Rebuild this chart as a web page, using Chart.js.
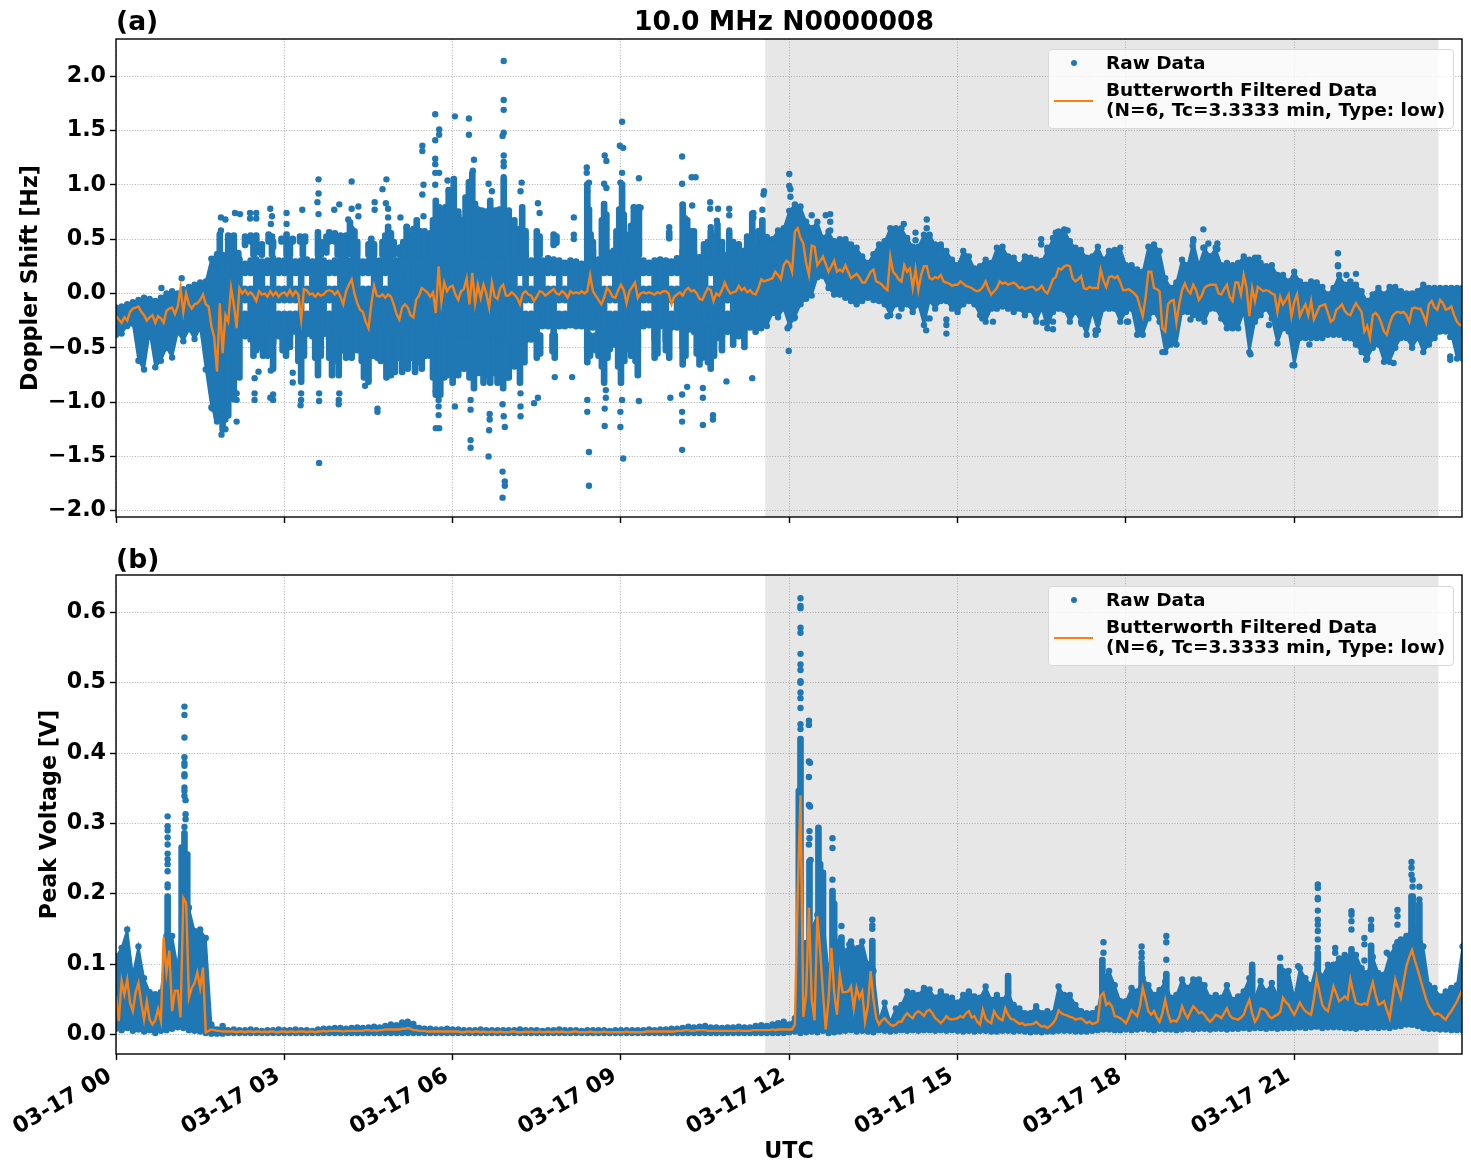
<!DOCTYPE html>
<html>
<head>
<meta charset="utf-8">
<title>10.0 MHz N0000008</title>
<script src="https://cdn.jsdelivr.net/npm/chart.js@4/dist/chart.umd.min.js"></script>
<style>
  body { margin: 0; background: #fff; font-family: "DejaVu Sans", sans-serif; font-weight: bold; color: #000; }
  #page { position: relative; width: 1471px; height: 1172px; overflow: hidden; }
  canvas { position: absolute; left: 0; }
  .heading { position: absolute; white-space: nowrap; font-size: 26.6px; line-height: 30px; }
  .legend { position: absolute; left: 1048px; width: 406px; height: 80px; box-sizing: border-box;
    background: rgba(255, 255, 255, 0.8); border: 1px solid #d8d8d8; border-radius: 4px; font-size: 18.5px; line-height: 20px; }
  .legend span { position: absolute; white-space: nowrap; }
  .legend .dot { left: 22px; top: 10px; width: 6px; height: 6px; border-radius: 50%; background: #1f77b4; }
  .legend .dash { left: 5px; top: 50px; width: 39px; height: 2px; background: #ff7f0e; }
  .legend .raw { left: 57px; top: 3px; }
  .legend .filtered { left: 57px; top: 30px; }
</style>
</head>
<body>
<div id="page">
  <canvas id="dopplerChart" width="1471" height="530" style="top:0"></canvas>
  <canvas id="voltageChart" width="1471" height="642" style="top:530px"></canvas>
  <div class="heading" style="left:116px;top:6px">(a)</div>
  <div class="heading" style="left:116px;top:544px">(b)</div>
  <div class="heading" style="left:634px;top:6px">10.0 MHz N0000008</div>
  <div class="legend" style="top:49px">
    <span class="dot"></span><span class="raw">Raw Data</span>
    <span class="dash"></span><span class="filtered">Butterworth Filtered Data<br>(N=6, Tc=3.3333 min, Type: low)</span>
  </div>
  <div class="legend" style="top:586px">
    <span class="dot"></span><span class="raw">Raw Data</span>
    <span class="dash"></span><span class="filtered">Butterworth Filtered Data<br>(N=6, Tc=3.3333 min, Type: low)</span>
  </div>
</div>
<script>
// Band edges hold one reading per 0.1 hour, filtered traces one per 0.05 hour
const bandStep = 0.1;
const filteredStep = 0.05;
const xTickLabels = ["03-17 00", "03-17 03", "03-17 06", "03-17 09", "03-17 12", "03-17 15", "03-17 18", "03-17 21"];
const duskSpan = [11.57, 23.57];

// Doppler shift [Hz], edges of the solid raw band outside the two-ray night hours
const dopplerUpper = [
  -.13,-.12,-.10,-.08,-.06,-.04,-.05,-.07,-.04,.00,
  .02,.00,.04,.06,.08,.10,.11,.32,.36,null,
  null,null,null,null,null,null,null,null,null,null,
  null,null,null,null,null,null,null,null,null,null,
  null,null,null,null,null,null,null,null,null,null,
  null,null,null,null,null,null,null,null,null,null,
  null,null,null,null,null,null,null,null,null,null,
  null,null,null,null,null,null,null,null,null,null,
  null,null,null,null,null,null,null,null,null,null,
  null,null,null,null,null,null,null,null,null,null,
  null,null,null,null,null,null,null,null,null,null,
  null,null,null,null,null,.48,.52,.50,.58,.60,
  .76,.82,.80,.66,.60,.66,.51,.57,.48,.50,
  .50,.45,.42,.34,.28,.36,.45,.48,.60,.60,
  .60,.51,.43,.43,.54,.54,.45,.43,.39,.31,
  .26,.39,.34,.23,.25,.31,.28,.42,.43,.34,
  .33,.26,.34,.33,.31,.30,.39,.51,.57,.59,
  .48,.42,.40,.33,.34,.43,.31,.39,.40,.42,
  .26,.26,.22,.20,.43,.45,.39,.14,.05,.10,
  .31,.26,.48,.26,.42,.34,.42,.26,.28,.26,
  .28,.34,.31,.33,.28,.25,.26,.17,.17,.11,
  .20,.11,.08,.11,.10,.06,-.01,.05,.17,.08,
  .11,.08,.02,-.07,-.01,.05,-.01,.06,.06,.02,
  .00,.00,.02,.08,.05,.05,.05,.05,.05,.05,.05
];
const dopplerLower = [
  -.38,-.37,-.30,-.28,-.62,-.70,-.36,-.68,-.62,-.50,
  -.59,-.36,-.44,-.33,-.42,-.32,-.70,-1.05,-1.18,null,
  null,null,null,null,null,null,null,null,null,null,
  null,null,null,null,null,null,null,null,null,null,
  null,null,null,null,null,null,null,null,null,null,
  null,null,null,null,null,null,null,null,null,null,
  null,null,null,null,null,null,null,null,null,null,
  null,null,null,null,null,null,null,null,null,null,
  null,null,null,null,null,null,null,null,null,null,
  null,null,null,null,null,null,null,null,null,null,
  null,null,null,null,null,null,null,null,null,null,
  null,null,null,null,null,-.32,-.30,-.18,-.22,-.14,
  -.30,-.22,-.10,-.05,-.02,.15,.16,.05,-.01,-.01,
  -.04,-.07,-.10,-.07,-.04,-.06,-.07,-.10,-.20,-.10,
  -.14,-.10,-.17,-.10,-.29,-.07,-.14,-.07,-.07,-.14,
  -.17,-.10,-.07,-.10,-.20,-.26,-.14,-.14,-.12,-.14,
  -.17,-.14,-.20,-.15,-.26,-.14,-.32,-.17,-.14,-.15,
  -.26,-.17,-.26,-.38,-.17,-.34,-.14,-.14,-.14,-.26,
  -.17,-.14,-.38,-.38,-.23,-.17,-.26,-.54,-.47,-.47,
  -.17,-.17,-.20,-.23,-.26,-.14,-.14,-.23,-.32,-.32,
  -.32,-.17,-.54,-.26,-.20,-.14,-.23,-.46,-.32,-.35,
  -.66,-.41,-.41,-.41,-.41,-.41,-.38,-.38,-.38,-.41,
  -.41,-.47,-.54,-.60,-.50,-.47,-.63,-.63,-.50,-.41,
  -.41,-.50,-.41,-.54,-.47,-.41,-.35,-.35,-.38,-.60,-.60
];

// Night hours, 01:48 to 11:30: outer edges of the raw cloud, split into three rays
const nightStartHour = 1.8;
const nightTop = [
  .36,.38,
  .34,.33,.34,.30,.33,.34,.32,.33,.35,.33,
  .33,.34,.32,.33,.34,.32,.34,.33,.31,.33,
  .33,.34,.33,.35,.32,.33,.34,.33,.34,.33,
  .33,.35,.36,.40,.42,.50,.58,.66,.60,.72,
  .66,.74,.60,.75,.68,.74,.62,.70,.74,.66,
  .72,.55,.62,.40,.33,.35,.33,.35,.34,.33,
  .31,.33,.32,.30,.46,.42,.34,.50,.40,.36,
  .50,.46,.38,.46,.33,.31,.33,.34,.33,.32,
  .35,.42,.40,.42,.36,.38,.42,.38,.40,.38,
  .42,.40,.42,.40,.45,.48
];
const nightBottom = [
  -1.18,-1.28,
  -1.15,-1.0,-.80,-.42,-.45,-.42,-.40,-.45,-.48,-.42,
  -.45,-.42,-.38,-.48,-.40,-.42,-.46,-.40,-.45,-.48,
  -.48,-.45,-.42,-.44,-.50,-.48,-.44,-.46,-.52,-.48,
  -.50,-.46,-.52,-.48,-.52,-.50,-.60,-.68,-.66,-.64,
  -.62,-.66,-.64,-.70,-.72,-.60,-.70,-.66,-.68,-.72,
  -.68,-.56,-.62,-.46,-.45,-.46,-.33,-.33,-.46,-.33,
  -.33,-.32,-.33,-.33,-.56,-.34,-.52,-.58,-.54,-.50,
  -.58,-.54,-.50,-.56,-.33,-.32,-.45,-.33,-.46,-.34,
  -.34,-.52,-.36,-.38,-.48,-.40,-.50,-.44,-.42,-.38,
  -.40,-.42,-.36,-.34,-.38,-.32
];
const nightRayEdges = [-.16, -.09, .07, .16];
// Hours where the gap between the rays stays open
const upperGapHours = [2.3,2.4,2.7,2.9,3.0,3.2,3.4,3.8,3.9,4.4,4.5,4.8,7.2,7.4,7.7,7.8,8.0,8.7,8.8,9.4,9.5,9.9,10.0,10.6];
const lowerGapHours = [2.3,2.9,3.0,3.1,3.2,3.4,3.8,7.3,7.4,7.9,8.0,8.8,8.9,9.4,9.5,9.9,10.9];

// Stacks of raw readings rising out of the cloud: [hour, low, high]
const dopplerColumns = [
  [1.85,.30,.57],[2.0,.30,.56],[2.1,.30,.56],[2.18,.30,.40],[2.3,.42,.55],[2.4,.45,.56],[2.5,.35,.56],[2.72,.45,.57],[2.8,.40,.50],
  [2.95,.45,.53],[3.04,.33,.57],[3.15,.45,.53],[3.28,.45,.55],[3.37,.45,.55],[3.6,.33,.59],[3.8,.45,.59],[3.9,.45,.58],[4.0,.33,.56],
  [4.1,.33,.56],[4.17,.54,.68],[4.25,.33,.60],[4.5,.33,.48],[4.55,.33,.53],[4.75,.33,.50],[4.85,.33,.64],[4.95,.33,.50],[5.06,.33,.45],
  [5.18,.33,.64],[5.36,.33,.70],[5.42,.33,.60],[5.6,.33,.55],[5.7,.33,.88],[5.76,.33,.82],[5.87,.33,.82],[5.93,.33,.98],[6.02,.33,1.08],
  [6.23,.33,.91],[6.29,.33,1.05],[6.35,.33,1.13],[6.4,.33,.85],[6.52,.33,.79],[6.6,.33,.78],[6.67,.33,.88],[6.76,.33,.79],[6.83,.33,.80],
  [6.91,.33,1.07],[7.0,.33,.79],[7.18,.33,.57],[7.24,.33,.82],[7.5,.33,.60],[7.8,.42,.57],[7.85,.44,.55],[8.4,.33,1.03],[8.46,.33,.57],
  [8.7,.33,.85],[8.74,.33,.75],[8.87,.33,.42],[8.97,.33,.80],[9.02,.33,1.03],[9.08,.33,.57],[9.23,.33,.82],[9.32,.33,.82],[9.86,.48,.59],
  [10.1,.33,.84],[10.18,.33,.70],[10.3,.33,.60],[10.48,.33,.48],[10.6,.33,.60],[10.72,.33,.66],[10.93,.33,.58],[11.1,.33,.48],[11.34,.33,.76],[11.52,.33,.70],
  [2.05,.33,.50],[2.45,.33,.52],[2.6,.33,.48],[2.78,.33,.55],[3.1,.33,.50],[3.33,.33,.52],[3.65,.33,.50],[3.75,.35,.55],[3.95,.33,.55],[4.05,.33,.52],
  [4.2,.33,.62],[4.3,.33,.50],[4.6,.33,.48],[4.8,.33,.56],[4.9,.33,.58],[5.12,.33,.50],[5.25,.33,.55],[5.3,.33,.62],[5.5,.33,.60],[5.65,.33,.70],
  [5.82,.33,.72],[6.1,.33,.78],[6.15,.33,.70],[6.45,.33,.80],[6.72,.33,.75],[6.96,.33,.76],[7.1,.33,.70],[7.3,.33,.60],[7.55,.33,.55],[8.43,.33,.80],
  [8.5,.33,.50],[8.66,.33,.70],[8.92,.33,.60],[9.05,.33,.75],[9.18,.33,.65],[9.28,.33,.72],[10.14,.33,.72],[10.24,.33,.60],[10.55,.33,.50],[10.66,.33,.55],
  [10.8,.33,.50],[11.0,.33,.50],[11.25,.33,.55],[11.45,.33,.60],
  [2.45,-.60,-.36],[2.62,-.60,-.36],[2.7,-.60,-.36],[2.8,-.72,-.36],[3.03,-.60,-.36],[3.3,-.84,-.36],[3.6,-.78,-.36],[3.85,-.78,-.36],
  [3.97,-.78,-.36],[4.1,-.62,-.36],[4.2,-.62,-.36],[4.42,-.80,-.36],[4.5,-.84,-.36],[4.66,-.62,-.36],[4.82,-.80,-.36],[4.9,-.78,-.36],
  [4.97,-.75,-.36],[5.1,-.75,-.36],[5.2,-.72,-.36],[5.33,-.75,-.36],[5.45,-.72,-.36],[5.7,-.96,-.36],[5.78,-.96,-.36],[5.9,-.78,-.36],
  [6.0,-.85,-.40],[6.3,-.80,-.40],[6.38,-.90,-.40],[6.55,-.85,-.40],[6.67,-.85,-.40],[6.8,-.85,-.40],[6.9,-.90,-.40],[7.0,-.80,-.40],
  [7.2,-.85,-.40],[7.5,-.62,-.36],[7.82,-.62,-.36],[8.4,-.66,-.36],[8.6,-.60,-.36],[8.7,-.85,-.36],[9.0,-.85,-.36],[9.3,-.78,-.36],
  [9.6,-.62,-.30],[9.86,-.62,-.30],[10.1,-.68,-.30],[10.4,-.68,-.30],[10.6,-.72,-.30],[10.8,-.55,-.30],
  [2.5,-.55,-.36],[2.58,-.52,-.36],[2.75,-.58,-.36],[2.97,-.55,-.36],[3.1,-.52,-.36],[3.25,-.65,-.36],[3.35,-.60,-.36],[3.55,-.62,-.36],[3.65,-.60,-.36],
  [3.8,-.62,-.36],[3.92,-.65,-.36],[4.05,-.55,-.36],[4.15,-.58,-.36],[4.3,-.55,-.36],[4.38,-.65,-.36],[4.58,-.60,-.36],[4.72,-.65,-.36],[4.87,-.70,-.36],
  [5.03,-.62,-.36],[5.15,-.66,-.36],[5.27,-.62,-.36],[5.4,-.66,-.36],[5.52,-.60,-.36],[5.65,-.80,-.36],[5.85,-.80,-.36],[5.97,-.72,-.36],[6.1,-.78,-.40],
  [6.2,-.72,-.40],[6.46,-.76,-.40],[6.62,-.78,-.40],[6.74,-.76,-.40],[6.96,-.80,-.40],[7.1,-.70,-.40],[7.28,-.66,-.40],[7.56,-.58,-.36],[7.78,-.56,-.36],
  [8.45,-.60,-.36],[8.55,-.55,-.36],[8.66,-.70,-.36],[8.76,-.62,-.36],[8.95,-.70,-.36],[9.06,-.65,-.36],[9.18,-.60,-.36],[9.26,-.65,-.36],[9.65,-.58,-.30],
  [9.8,-.55,-.30],[10.15,-.60,-.30],[10.35,-.58,-.30],[10.45,-.62,-.30],[10.55,-.66,-.30],[10.66,-.60,-.30],[11.0,-.50,-.30],[11.2,-.52,-.30]
];

// Filtered Doppler trace [Hz], 20 readings to the hour
const dopplerFiltered = [
  -.21,-.24,-.27,-.22,-.25,-.17,-.14,-.13,-.12,-.17,-.20,-.25,-.22,-.20,-.27,-.21,-.23,-.27,-.16,-.14,
  -.13,-.19,-.12,.05,-.17,.00,-.10,-.14,-.10,-.09,-.06,-.01,-.10,-.12,-.30,-.40,-.72,-.09,-.55,-.20,
  -.26,.05,-.10,-.32,.05,.00,.03,-.01,.01,-.02,-.07,.02,-.01,.00,-.03,.02,-.02,.01,-.03,.00,
  .01,-.02,.03,-.02,.02,-.01,-.24,.04,.03,-.01,.00,-.03,.00,-.02,-.01,.02,.03,.02,-.01,.02,
  -.03,-.10,.02,.08,.13,.00,-.09,-.15,-.17,-.26,-.32,-.10,.07,-.02,-.03,-.01,-.04,-.01,-.03,-.10,
  -.19,-.24,-.13,-.10,-.13,-.20,-.22,-.06,-.02,.05,.03,.01,-.03,.01,-.18,.25,-.08,.10,.02,.06,
  .07,-.01,-.06,.02,.04,.14,-.10,.19,-.09,.08,-.04,.08,.00,-.13,.10,-.03,-.05,.05,.08,-.02,
  -.02,.01,-.01,-.04,-.10,.00,.02,-.01,-.02,-.07,-.03,.02,.01,-.02,.00,.02,.04,.00,-.01,.02,
  .00,-.04,.02,.00,.01,.00,.02,.00,.02,.17,.02,-.02,-.06,-.10,-.04,.05,.02,-.03,-.04,.03,
  .08,.03,-.09,.02,.06,.10,-.04,.00,.01,.00,.01,.00,-.01,.01,.00,.02,.02,.00,-.10,-.03,
  -.01,.01,-.02,.03,.05,.02,.03,.00,-.05,-.06,.00,.05,.03,-.07,.00,-.02,.03,.10,.04,.00,
  .01,.02,.07,.03,.05,.01,.03,.00,-.01,.05,.13,.11,.12,.13,.14,.20,.17,.13,.26,.30,
  .28,.20,.57,.60,.51,.46,.28,.17,.44,.43,.26,.30,.34,.27,.20,.25,.30,.20,.22,.20,
  .26,.20,.14,.16,.18,.15,.10,.10,.15,.20,.22,.11,.10,.08,.05,.03,.34,.20,.17,.13,
  .11,.26,.20,.23,.05,.22,.03,.17,.25,.25,.14,.13,.15,.14,.17,.11,.10,.09,.07,.08,
  .08,.11,.09,.07,.06,.05,.03,.02,.03,.06,.11,.04,-.01,.02,.05,.11,.09,.10,.08,.09,
  .10,.08,.05,.06,.04,.05,.06,.06,.03,.04,.07,.02,.00,.06,.13,.15,.23,.22,.25,.26,
  .25,.14,.11,.13,.16,.05,.04,.06,.05,.05,.05,.22,.12,.06,.15,.16,.14,.16,.10,.03,
  .03,.04,.02,.00,-.03,-.12,-.21,-.04,.20,.20,.05,.04,.02,-.32,-.35,-.10,-.07,-.06,-.27,-.10,
  .03,.09,.03,.00,.08,.03,-.06,-.02,.05,.07,.08,.08,.08,.00,-.01,.04,.08,-.03,-.07,.10,
  .10,-.01,.17,.05,-.21,.05,-.07,.06,.04,.02,.03,.02,.00,-.01,-.17,-.03,-.10,-.06,-.01,-.21,
  -.08,-.01,-.21,-.15,-.10,-.20,-.07,-.24,-.18,-.12,-.11,-.10,-.18,-.26,-.24,-.15,-.13,-.10,-.16,-.19,
  -.20,-.14,-.09,-.13,-.17,-.35,-.30,-.41,-.20,-.18,-.21,-.27,-.35,-.38,-.28,-.21,-.18,-.17,-.18,-.17,
  -.20,-.26,-.14,-.13,-.14,-.14,-.20,-.27,-.10,-.07,-.13,-.15,-.06,-.09,-.15,-.14,-.12,-.20,-.26,-.29,-.29
];

// Doppler readings standing clear of the cloud: [hour, Hz]
const dopplerStrays = [
  [1.17,.14],[.81,.05],[1.87,.70],[1.95,.68],[1.87,.58],[2.12,.74],[2.21,.73],[2.39,.74],[2.39,.69],[2.5,.74],[2.5,.69],
  [2.75,.78],[2.78,.71],[2.76,.64],[3.04,.74],[3.04,.64],[3.32,.77],[3.61,1.05],[3.61,.92],[3.59,.84],[3.61,.73],[3.98,.82],
  [3.89,.77],[4.2,1.03],[4.2,.78],[4.32,.80],[4.32,.71],[4.14,.68],[4.61,.84],[4.61,.77],[4.82,1.05],[4.75,.96],[4.81,.83],
  [4.85,.78],[4.85,.70],[5.07,.70],[5.18,.61],[5.46,1.36],[5.46,1.31],[5.48,1.0],[5.46,.91],[5.48,.71],[5.69,1.65],[5.76,1.51],
  [5.76,1.46],[5.69,1.41],[5.69,1.24],[5.69,1.19],[5.69,1.11],[5.76,1.11],[5.69,1.0],[5.91,1.04],[5.93,.94],
  [3.62,-1.56],[4.66,-1.06],[4.66,-1.09],[1.72,-1.06],[1.79,-1.13],[1.82,-1.09],[1.88,-1.3],[1.88,-1.16],[1.95,-1.16],[1.95,-1.25],
  [2.15,-1.18],[2.15,-.98],[2.15,-.92],[2.47,-.98],[2.47,-.92],[2.75,-.96],[2.8,-.98],[2.8,-.93],[3.3,-.92],[3.3,-.98],[3.29,-1.03],
  [3.62,-.92],[3.62,-.99],[3.98,-.92],[3.97,-.98],[3.97,-1.02],[4.44,-.85],[3.15,-.82],[3.15,-.73],[2.47,-.78],[2.54,-.72],[2.76,-.71],
  [5.7,-.90],[5.75,-.98],[5.75,-1.04],[5.75,-1.12],[5.7,-1.24],[5.76,-1.24],
  [6.91,2.14],[6.91,1.78],[6.91,1.69],[6.91,1.48],[6.89,1.45],[6.91,1.27],[6.91,1.21],[6.91,1.17],[6.91,1.07],[6.04,1.63],[6.29,1.61],
  [6.29,1.46],[6.38,1.23],[6.36,1.13],[6.64,1.01],[6.7,.94],[7.23,1.02],[7.21,.94],[7.52,.83],[7.55,.74],[8.16,.70],[8.16,.54],[8.16,.50],
  [8.71,1.27],[8.74,1.22],[8.39,1.16],[8.39,1.11],[8.43,1.02],[8.4,.94],[8.7,1.01],[8.74,.97],[9.02,1.58],[8.98,1.36],[9.04,1.34],
  [9.02,1.11],[8.99,1.02],[9.32,1.06],[9.23,.79],[9.35,.79],[10.09,1.26],[10.09,1.01],[10.26,1.07],[10.33,1.07],[10.1,.82],[10.27,.81],
  [10.59,.84],[10.59,.78],[10.73,.78],[10.93,.78],[10.93,.72],[10.71,.67],[11.36,.74],[11.36,.70],[11.52,.77],[11.54,.91],[11.55,.94],
  [9.86,.61],[10.6,.61],[10.93,.58],
  [6.89,-1.88],[6.93,-1.73],[6.93,-1.77],[6.89,-1.64],[6.64,-1.5],[6.32,-1.35],[6.32,-1.42],[6.04,-1.04],[6.32,-.98],[6.32,-1.07],
  [6.66,-1.11],[6.66,-1.16],[6.65,-1.26],[6.93,-1.23],[6.91,-1.13],[6.89,-1.02],[7.21,-1.13],[7.21,-1.04],[7.21,-.92],[7.52,-.96],
  [7.45,-1.01],[7.82,-.77],[8.13,-.77],[8.4,-1.09],[8.4,-.98],[8.43,-1.46],[8.43,-1.77],[8.71,-1.22],[8.71,-1.06],[8.73,-.96],[8.73,-.89],
  [8.99,-1.23],[8.99,-1.09],[9.02,-.98],[9.04,-1.52],[9.32,-.99],[9.88,-.96],[10.09,-1.44],[10.09,-1.18],[10.09,-1.09],[10.09,-.93],
  [10.18,-.86],[10.46,-1.21],[10.46,-.96],[10.46,-.87],[10.64,-1.16],[10.64,-1.12],[10.88,-.81],[11.34,-.78],
  [12.0,1.10],[12.0,.99],[12.02,.96],[12.02,.89],[12.4,.72],[12.65,.72],[12.73,.73],[12.73,.66],[12.73,.58],[14.04,.64],[14.25,.56],
  [14.25,.49],[14.45,.68],[14.45,.60],[14.5,.53],[14.7,.45],[16.75,.56],[16.96,.58],[16.49,.50],[16.49,.45],[16.6,.42],[16.6,.33],
  [11.99,-.53],[11.97,-.32],[12.08,-.23],[13.75,-.21],[13.95,-.21],[14.44,-.34],[14.44,-.23],[14.5,-.23],[14.8,-.24],[14.8,-.29],[14.8,-.37],
  [15.44,-.17],[15.44,-.23],[15.63,-.26],[16.52,-.27],[16.7,-.33],[16.7,-.26],[17.21,-.28],[17.46,-.38],[17.46,-.34],[17.5,-.27],[18.02,-.26],
  [19.38,.59],[19.2,.50],[19.19,.44],[19.47,.46],[19.63,.46],[19.63,.41],[19.38,.42],[19.47,.34],[19.63,.30],[20.36,.33],[21.78,.37],
  [21.78,.26],[21.78,.25],[22.1,.18],[21.93,.17],[18.04,-.26],[19.15,-.24],[20.55,-.29],[21.27,-.47],[20.22,-.56],[20.97,-.66],
  [23.78,-.35],[23.78,-.40],[23.78,-.58],[23.78,-.61],[22.77,-.64],[22.28,-.61],[18.65,-.54]
];

// Peak voltage [V], edges of the solid raw band
const voltageUpper = [
  .110,.123,.149,.085,.125,.080,.060,.057,.060,.140,
  .140,.095,.200,.180,.147,.149,.137,.014,.007,.012,
  .006,.007,.006,.006,.007,.006,.005,.006,.006,.007,
  .006,.006,.007,.006,.006,.005,.007,.008,.008,.009,
  .009,.008,.009,.010,.009,.010,.011,.010,.012,.014,
  .013,.017,.018,.015,.009,.008,.008,.007,.007,.008,
  .007,.007,.006,.006,.006,.007,.006,.006,.006,.006,
  .006,.006,.007,.006,.006,.006,.005,.006,.006,.007,
  .006,.006,.006,.005,.006,.006,.006,.006,.005,.006,
  .006,.006,.006,.006,.006,.007,.006,.007,.007,.008,
  .008,.009,.011,.010,.011,.012,.010,.010,.009,.010,
  .010,.011,.010,.010,.012,.013,.012,.014,.016,.018,
  .014,.023,.120,.130,.150,.170,.170,.090,.140,.130,
  .118,.132,.120,.132,.100,.090,.020,.045,.018,.037,
  .042,.061,.059,.056,.066,.064,.052,.061,.054,.052,
  .045,.056,.061,.054,.052,.068,.049,.056,.049,.060,
  .042,.037,.030,.030,.040,.030,.033,.030,.068,.056,
  .056,.042,.033,.030,.030,.037,.080,.090,.070,.047,
  .047,.066,.061,.080,.070,.056,.063,.075,.052,.056,
  .078,.066,.078,.078,.070,.052,.056,.052,.070,.049,
  .054,.061,.080,.052,.076,.061,.073,.056,.090,.090,
  .052,.094,.080,.070,.100,.082,.099,.099,.108,.113,
  .110,.113,.094,.087,.110,.087,.085,.113,.125,.135,
  .140,.150,.150,.125,.070,.066,.054,.061,.066,.070,.125
];
const voltageLower = [
  .008,.006,.009,.005,.007,.004,.006,.002,.005,.006,
  .008,.010,.009,.006,.005,.004,.002,.001,.001,.001,
  .002,.002,.002,.002,.002,.002,.002,.002,.002,.002,
  .002,.002,.002,.002,.002,.002,.002,.002,.002,.002,
  .002,.002,.002,.002,.002,.002,.002,.002,.002,.002,
  .002,.002,.002,.002,.002,.002,.002,.002,.002,.002,
  .002,.002,.002,.002,.002,.002,.002,.002,.002,.002,
  .002,.002,.002,.002,.002,.002,.002,.002,.002,.002,
  .002,.002,.002,.002,.002,.002,.002,.002,.002,.002,
  .002,.002,.002,.002,.002,.002,.002,.002,.002,.002,
  .002,.002,.002,.002,.002,.002,.002,.002,.002,.002,
  .002,.002,.002,.002,.002,.002,.002,.002,.002,.002,
  .003,.004,.002,.003,.004,.003,.005,.002,.003,.004,
  .005,.006,.004,.005,.004,.003,.006,.005,.004,.005,
  .006,.005,.006,.005,.006,.006,.005,.006,.005,.006,
  .005,.004,.005,.004,.005,.005,.004,.004,.005,.005,
  .004,.005,.004,.003,.004,.003,.004,.004,.005,.005,
  .005,.004,.004,.004,.005,.006,.007,.007,.006,.006,
  .007,.006,.007,.008,.007,.006,.008,.007,.007,.006,
  .007,.008,.007,.008,.008,.007,.008,.008,.007,.008,
  .008,.009,.008,.009,.009,.008,.009,.008,.009,.009,
  .009,.010,.009,.010,.011,.009,.010,.010,.010,.009,
  .009,.008,.010,.009,.010,.009,.010,.009,.011,.012,
  .014,.016,.012,.009,.008,.008,.007,.007,.006,.006,.006
];

// Narrow voltage peaks: [hour, low, high]
const voltageColumns = [
  [.92,.01,.20],[1.17,.01,.27],[1.22,.01,.29],[1.27,.01,.26],[12.17,.01,.35],[12.2,.01,.424],[12.36,.01,.25],[12.52,.01,.298],[12.55,.01,.246],
  [12.6,.01,.234],[12.77,.01,.208],[12.8,.01,.19],[12.93,.01,.142],[13.48,.01,.137],[15.9,.01,.087],[17.58,.01,.11],[18.28,.01,.10],
  [18.72,.01,.09],[20.25,.01,.10],[20.75,.01,.10],[21.42,.01,.12],[22.02,.01,.125],[22.37,.01,.13],[22.84,.01,.135],[23.09,.01,.20],[23.11,.01,.20],[23.23,.01,.19]
];

// Filtered voltage trace [V], 20 readings to the hour
const voltageFiltered = [
  .055,.019,.076,.057,.078,.045,.033,.060,.073,.045,.021,.047,.021,.014,.020,.036,.019,.138,.088,.119,
  .033,.062,.062,.024,.194,.187,.052,.066,.073,.088,.066,.095,.003,.005,.007,.006,.005,.005,.004,.004,
  .004,.004,.004,.003,.004,.004,.003,.004,.004,.003,.004,.004,.003,.004,.003,.004,.004,.003,.003,.004,
  .004,.003,.004,.004,.003,.004,.004,.004,.003,.004,.004,.003,.004,.004,.005,.004,.005,.005,.005,.005,
  .005,.004,.005,.005,.005,.005,.005,.005,.005,.006,.006,.005,.006,.005,.006,.006,.007,.007,.007,.007,
  .007,.007,.008,.008,.009,.008,.006,.006,.005,.005,.005,.004,.004,.004,.004,.004,.004,.004,.004,.004,
  .004,.004,.004,.003,.003,.004,.004,.003,.004,.004,.003,.004,.003,.003,.004,.003,.003,.004,.003,.003,
  .003,.004,.004,.003,.003,.003,.004,.003,.004,.003,.003,.004,.003,.003,.004,.003,.003,.004,.003,.004,
  .003,.003,.003,.004,.004,.003,.003,.003,.003,.004,.003,.003,.003,.003,.004,.003,.003,.003,.003,.003,
  .003,.003,.004,.003,.003,.003,.003,.003,.003,.004,.004,.004,.004,.004,.004,.004,.004,.004,.004,.004,
  .005,.005,.005,.006,.006,.005,.005,.006,.006,.006,.006,.005,.005,.005,.005,.005,.005,.005,.005,.005,
  .005,.005,.006,.005,.005,.005,.005,.006,.006,.006,.006,.006,.006,.006,.007,.006,.007,.007,.007,.007,
  .007,.007,.014,.200,.340,.025,.056,.180,.050,.020,.168,.118,.060,.007,.050,.123,.060,.028,.085,.060,
  .060,.061,.068,.037,.066,.052,.061,.018,.040,.090,.050,.023,.014,.020,.023,.018,.014,.012,.014,.018,
  .018,.025,.030,.026,.023,.030,.033,.030,.026,.033,.035,.030,.023,.020,.016,.020,.026,.022,.021,.022,
  .023,.026,.024,.030,.033,.024,.026,.018,.014,.035,.022,.018,.016,.033,.026,.022,.020,.037,.028,.022,
  .021,.018,.015,.016,.013,.014,.014,.015,.018,.014,.011,.012,.009,.012,.016,.022,.034,.030,.028,.027,
  .025,.024,.021,.022,.023,.020,.016,.018,.015,.016,.018,.055,.059,.042,.045,.040,.026,.025,.023,.020,
  .016,.024,.034,.030,.026,.040,.066,.050,.033,.028,.033,.024,.018,.030,.049,.030,.018,.020,.018,.025,
  .040,.030,.023,.032,.040,.036,.030,.032,.028,.022,.018,.022,.028,.026,.023,.030,.037,.027,.023,.022,
  .021,.024,.028,.040,.049,.030,.018,.024,.037,.036,.033,.026,.023,.026,.028,.032,.052,.046,.042,.034,
  .028,.036,.045,.038,.033,.030,.028,.050,.080,.060,.042,.036,.033,.050,.068,.058,.047,.050,.054,.050,
  .078,.060,.045,.043,.042,.044,.042,.060,.074,.056,.042,.044,.047,.035,.023,.050,.078,.065,.052,.075,
  .097,.110,.120,.105,.092,.078,.064,.050,.040,.034,.028,.030,.028,.024,.021,.028,.033,.040,.047,.056,.064
];

// Voltage readings standing clear of the band: [hour, V]
const voltageStrays = [
  [.92,.31],[.92,.296],[.92,.29],[.92,.28],[.92,.27],[.92,.257],[.92,.249],[.92,.242],[.92,.232],[.92,.213],[.92,.209],
  [1.22,.466],[1.22,.454],[1.22,.422],[1.22,.394],[1.22,.386],[1.22,.382],[1.22,.37],[1.22,.367],[1.22,.351],[1.22,.346],[1.22,.339],
  [1.24,.333],[1.24,.313],[1.24,.306],[1.22,.295],
  [12.2,.62],[12.2,.609],[12.2,.606],[12.2,.578],[12.2,.571],[12.2,.541],[12.2,.526],[12.2,.518],[12.2,.502],[12.2,.5],[12.2,.486],
  [12.2,.478],[12.2,.464],[12.2,.441],[12.2,.434],[12.35,.446],[12.35,.44],[12.35,.388],[12.37,.386],[12.35,.366],[12.35,.326],[12.37,.324],
  [12.36,.289],[12.36,.279],[12.35,.27],[12.38,.248],[12.77,.279],[12.77,.265],[12.77,.22],[12.93,.154],[13.07,.128],[13.23,.123],
  [13.48,.163],[13.48,.155],[13.48,.15],
  [17.6,.131],[17.6,.116],[18.28,.125],[18.28,.116],[18.28,.109],[18.28,.101],[18.72,.14],[18.72,.131],[18.72,.106],
  [21.42,.213],[21.42,.208],[21.42,.194],[21.42,.192],[21.42,.176],[21.42,.163],[21.42,.156],[21.42,.147],[21.42,.135],[21.42,.123],
  [22.02,.175],[22.02,.17],[22.02,.161],[22.02,.149],[22.25,.137],[22.25,.128],[22.25,.105],[22.37,.163],[22.37,.154],[22.37,.149],
  [22.84,.177],[22.84,.168],[22.84,.156],[23.09,.245],[23.09,.237],[23.09,.227],[23.11,.22],[23.23,.21],[23.23,.192],[23.11,.21],
  [21.73,.123],[21.73,.116],[22.65,.116],[21.07,.097],[20.75,.109],[20.25,.099],[20.25,.085]
];

const rawBlue = "#1f77b4";
const filteredOrange = "#ff7f0e";
const gridGrey = "#b0b0b0";
const fontFamily = "'DejaVu Sans', sans-serif";

const toPoints = (values, step) => values.map((y, i) => ({ x: i * step, y }));
const strayPoints = (pairs) => pairs.map(([x, y]) => ({ x, y }));
const columnBars = (rows) => rows.map(([x, low, high]) => ({ x, y: [low, high] }));

// Breaks the night cloud into rays; bridges overlap the rays so the rounded ends leave no seam
function nightColumns() {
  const [lowerInner, midLow, midHigh, upperInner] = nightRayEdges;
  const seam = 0.04;
  const rows = [];
  nightTop.forEach((top, i) => {
    const hour = Math.round((nightStartHour + i * bandStep) * 10) / 10;
    rows.push([hour, nightBottom[i], lowerInner], [hour, midLow, midHigh], [hour, upperInner, top]);
    if (!upperGapHours.includes(hour)) rows.push([hour, midHigh - seam, upperInner + seam]);
    if (!lowerGapHours.includes(hour)) rows.push([hour, lowerInner - seam, midLow + seam]);
  });
  return rows;
}

// Grey dusk span, above the grid and under the data
const duskShade = {
  id: "duskShade",
  beforeDatasetsDraw(chart) {
    const { ctx, chartArea, scales } = chart;
    const left = scales.x.getPixelForValue(duskSpan[0]);
    const right = scales.x.getPixelForValue(duskSpan[1]);
    ctx.save();
    ctx.fillStyle = "rgba(128, 128, 128, 0.19)";
    ctx.fillRect(left, chartArea.top, right - left, chartArea.height);
    ctx.restore();
  },
};

// Black frame round the plot area
const frame = {
  id: "frame",
  afterDatasetsDraw(chart) {
    const { ctx, chartArea } = chart;
    ctx.save();
    ctx.strokeStyle = "#000";
    ctx.lineWidth = 1.4;
    ctx.strokeRect(chartArea.left, chartArea.top, chartArea.width, chartArea.height);
    ctx.restore();
  },
};

function buildChart(id, cfg) {
  const edgeStyle = {
    type: "line",
    borderColor: rawBlue,
    backgroundColor: rawBlue,
    borderWidth: 2,
    pointRadius: 3.2,
    pointBorderWidth: 0,
    pointBackgroundColor: rawBlue,
    tension: 0,
    spanGaps: false,
    order: 3,
  };
  return new Chart(document.getElementById(id), {
    data: {
      datasets: [
        { ...edgeStyle, label: "Raw band top", data: toPoints(cfg.upper, bandStep), fill: "+1" },
        { ...edgeStyle, label: "Raw band bottom", data: toPoints(cfg.lower, bandStep), fill: false },
        {
          type: "bar",
          label: "Raw stacks",
          data: columnBars(cfg.columns),
          backgroundColor: rawBlue,
          barThickness: 6,
          borderRadius: 3,
          borderSkipped: false,
          grouped: false,
          order: 3,
        },
        {
          type: "scatter",
          label: "Raw Data",
          data: strayPoints(cfg.strays),
          backgroundColor: rawBlue,
          borderWidth: 0,
          pointRadius: 3.2,
          order: 2,
        },
        {
          type: "line",
          label: "Butterworth Filtered Data",
          data: toPoints(cfg.filtered, filteredStep),
          borderColor: filteredOrange,
          borderWidth: 2.4,
          pointRadius: 0,
          tension: 0,
          fill: false,
          order: 1,
        },
      ],
    },
    options: {
      responsive: false,
      animation: false,
      events: [],
      layout: { padding: { top: cfg.plotTop, right: 9, left: 0, bottom: 0 } },
      plugins: { legend: { display: false }, tooltip: { enabled: false } },
      scales: {
        x: {
          type: "linear",
          offset: false,
          min: 0,
          max: 23.99,
          afterFit(scale) {
            scale.height = cfg.xAxisHeight;
            scale.paddingLeft = 0;
            scale.paddingRight = 0;
          },
          border: { display: false, dash: [1, 1.7] },
          grid: { offset: false, color: gridGrey, lineWidth: 1, tickColor: "#000", tickLength: 6, tickBorderDash: [], tickWidth: 1.4 },
          ticks: {
            display: cfg.showXLabels,
            stepSize: 3,
            includeBounds: false,
            autoSkip: false,
            minRotation: 30,
            maxRotation: 30,
            padding: 3,
            labelOffset: -6,
            color: "#000",
            font: { family: fontFamily, size: 22.2, weight: "bold" },
            callback: (value) => xTickLabels[value / 3],
          },
          title: {
            display: cfg.showXLabels,
            text: "UTC",
            color: "#000",
            font: { family: fontFamily, size: 22.2, weight: "bold" },
            padding: { top: 0, bottom: 6 },
          },
        },
        y: {
          min: cfg.yMin,
          max: cfg.yMax,
          afterFit(scale) {
            scale.width = 116;
            scale.paddingTop = 0;
            scale.paddingBottom = 0;
          },
          border: { display: false, dash: [1, 1.7] },
          grid: { color: gridGrey, lineWidth: 1, tickColor: "#000", tickLength: 6, tickBorderDash: [], tickWidth: 1.4 },
          ticks: {
            stepSize: cfg.yStep,
            includeBounds: false,
            padding: 4,
            color: "#000",
            font: { family: fontFamily, size: 22.2, weight: "bold" },
            callback: (value) => value.toFixed(1).replace("-", "\u2212"),
          },
          title: {
            display: true,
            text: cfg.yTitle,
            color: "#000",
            font: { family: fontFamily, size: 22.2, weight: "bold" },
            padding: { top: cfg.yTitleInset, bottom: 0 },
          },
        },
      },
    },
    plugins: [duskShade, frame],
  });
}

buildChart("dopplerChart", {
  upper: dopplerUpper,
  lower: dopplerLower,
  columns: nightColumns().concat(dopplerColumns),
  filtered: dopplerFiltered,
  strays: dopplerStrays,
  plotTop: 39,
  xAxisHeight: 13,
  showXLabels: false,
  yMin: -2.058,
  yMax: 2.342,
  yStep: 0.5,
  yTitle: "Doppler Shift [Hz]",
  yTitleInset: 18,
});

buildChart("voltageChart", {
  upper: voltageUpper,
  lower: voltageLower,
  columns: voltageColumns,
  filtered: voltageFiltered,
  strays: voltageStrays,
  plotTop: 45,
  xAxisHeight: 118,
  showXLabels: true,
  yMin: -0.0279,
  yMax: 0.6531,
  yStep: 0.1,
  yTitle: "Peak Voltage [V]",
  yTitleInset: 37,
});
</script>
</body>
</html>
